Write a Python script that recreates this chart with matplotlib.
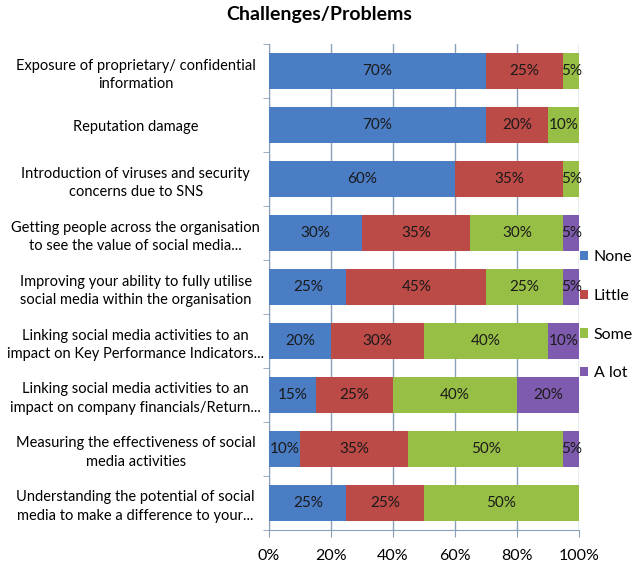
import matplotlib.pyplot as plt
import numpy as np

plt.rcParams['font.family'] = ['Lato', 'DejaVu Sans']

categories = [
    "Exposure of proprietary/ confidential\ninformation",
    "Reputation damage",
    "Introduction of viruses and security\nconcerns due to SNS",
    "Getting people across the organisation\nto see the value of social media...",
    "Improving your ability to fully utilise\nsocial media within the organisation",
    "Linking social media activities to an\nimpact on Key Performance Indicators...",
    "Linking social media activities to an\nimpact on company financials/Return...",
    "Measuring the effectiveness of social\nmedia activities",
    "Understanding the potential of social\nmedia to make a difference to your...",
]
none_vals = [70, 70, 60, 30, 25, 20, 15, 10, 25]
little_vals = [25, 20, 35, 35, 45, 30, 25, 35, 25]
some_vals = [5, 10, 5, 30, 25, 40, 40, 50, 50]
alot_vals = [0, 0, 0, 5, 5, 10, 20, 5, 0]
series_names = ["None", "Little", "Some", "A lot"]
colors = ["#4A7DC4", "#BC4A47", "#98BF45", "#7E5BAE"]

fig = plt.figure(figsize=(6.39, 5.65), dpi=100)
ax = fig.add_axes([0.421, 0.062, 0.485, 0.860])

y = np.arange(len(categories))
left = np.zeros(len(categories))
handles = []
for name, vals, c in zip(series_names, [none_vals, little_vals, some_vals, alot_vals], colors):
    vals = np.array(vals, dtype=float)
    h = ax.barh(y, vals, left=left, height=0.66, color=c, zorder=3)
    handles.append(h)
    for yi, l, v in zip(y, left, vals):
        if v > 0:
            ax.text(l + v / 2, yi, f"{int(v)}%", ha='center', va='center',
                    fontsize=11, color='#1a1a1a', zorder=4)
    left += vals

ax.set_xlim(0, 100)
ax.set_ylim(len(categories) - 0.5, -0.5)
ax.set_xticks(np.arange(0, 101, 20))
ax.set_xticklabels([f"{t}%" for t in range(0, 101, 20)], fontsize=11.5)
ax.set_yticks(y)
ax.set_yticklabels(categories, fontsize=10.5, ha='center', linespacing=1.4)
ax.tick_params(axis='y', length=0, pad=96)
ax.set_yticks(np.arange(-0.5, len(categories)), minor=True)
ax.tick_params(axis='y', which='minor', length=4, color='#8aa0b8')
ax.tick_params(axis='x', length=5, pad=9, color='#8aa0b8')
ax.grid(axis='x', color='#8aa0b8', linewidth=1, zorder=0)
for s in ['top', 'right']:
    ax.spines[s].set_visible(False)
for s in ['left', 'bottom']:
    ax.spines[s].set_color('#8aa0b8')

fig.suptitle("Challenges/Problems", x=0.5, y=0.99, fontsize=14, fontweight='bold')

fig.legend(handles, series_names, loc='center left', bbox_to_anchor=(0.908, 0.442),
           frameon=False, fontsize=11.5, handlelength=0.5, handleheight=0.5,
           handletextpad=0.35, labelspacing=1.55, borderpad=0, borderaxespad=0)

plt.savefig("out.png")
